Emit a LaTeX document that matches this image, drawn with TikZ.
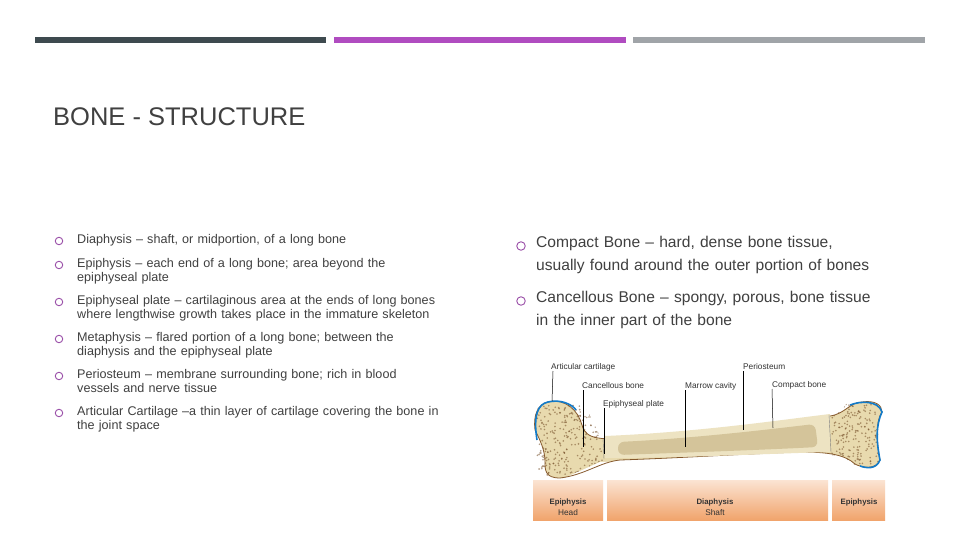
\documentclass[tikz,border=0pt]{standalone}
\usepackage{fontspec}
\setmainfont{Liberation Sans}
\definecolor{bar1}{HTML}{3E4A4F}
\definecolor{bar2}{HTML}{B04CC0}
\definecolor{bar3}{HTML}{A0A4A8}
\definecolor{bul}{HTML}{9A4FA8}
\definecolor{txt}{HTML}{404040}
\definecolor{bonec}{HTML}{EDE3C2}
\definecolor{marrow}{HTML}{D4C49A}
\definecolor{spong}{HTML}{E8DAAE}
\definecolor{orng}{HTML}{F1A46C}
\begin{document}
\begin{tikzpicture}[x=1pt,y=-1pt,
  lt/.style={anchor=north west,font=\fontsize{12.6}{14}\selectfont,text=txt,align=left,inner sep=0pt,text width=420pt},
  rt/.style={anchor=north west,font=\fontsize{15.6}{23}\selectfont,text=txt,align=left,inner sep=0pt,text width=420pt},
  bl/.style={draw=bul,line width=0.9pt,circle,minimum size=7.5pt,inner sep=0pt},
  lbl/.style={font=\fontsize{8.3}{9}\selectfont,inner sep=0pt,text=black!80},
  blbl/.style={font=\bfseries\fontsize{7.8}{9}\selectfont,inner sep=0pt,text=black!80},
  ptr/.style={draw=black,line width=0.5pt},
  bout/.style={draw=brown!70!black,line width=0.8pt},
  band/.style={top color=orng!30,bottom color=orng}]
\useasboundingbox (0,0) rectangle (960,540);
\fill[white] (0,0) rectangle (960,540);
\fill[bar1] (35,37) rectangle (326,43);
\fill[bar2] (334,37) rectangle (626,43);
\fill[bar3] (633,37) rectangle (925,43);
\node[anchor=west,font=\fontsize{25.5}{27}\selectfont,text=txt,inner sep=0pt] (title) at (53,117) {BONE - STRUCTURE};
% left bullets
\foreach \y/\t [count=\i] in {
 234/{Diaphysis -- shaft, or midportion, of a long bone},
 258/{Epiphysis -- each end of a long bone; area beyond the\\epiphyseal plate},
 295/{Epiphyseal plate -- cartilaginous area at the ends of long bones\\where lengthwise growth takes place in the immature skeleton},
 332/{Metaphysis -- flared portion of a long bone; between the\\diaphysis and the epiphyseal plate},
 369/{Periosteum -- membrane surrounding bone; rich in blood\\vessels and nerve tissue},
 406/{Articular Cartilage --a thin layer of cartilage covering the bone in\\the joint space}}{
 \node[bl] (b\i) at (59,\y+7) {};
 \node[lt] (l\i) at (77,\y) {\t};
}
\node[bl,minimum size=8.5pt] (rb1) at (521,246) {};
\node[rt] (r1) at (536,236) {Compact Bone -- hard, dense bone tissue,\\usually found around the outer portion of bones};
\node[bl,minimum size=8.5pt] (rb2) at (521,301) {};
\node[rt] (r2) at (536,291) {Cancellous Bone -- spongy, porous, bone tissue\\in the inner part of the bone};
% bone
\path[fill=spong]
 (548,402) .. controls (565,398) and (578,410) .. (582,425)
 .. controls (586,440) and (600,440) .. (640,438)
 .. controls (720,434) and (790,420) .. (830,416)
 .. controls (845,414) and (850,402) .. (862,402)
 .. controls (875,400) and (882,405) .. (882,412)
 .. controls (876,420) and (876,440) .. (880,460)
 .. controls (876,470) and (862,468) .. (855,464)
 .. controls (845,455) and (830,452) .. (800,452)
 .. controls (740,454) and (680,458) .. (620,460)
 .. controls (600,462) and (585,475) .. (560,478)
 .. controls (545,478) and (545,470) .. (545,462)
 .. controls (545,450) and (540,440) .. (535,430)
 .. controls (533,415) and (538,404) .. (548,402) -- cycle;
\pgfmathsetseed{7}
\foreach \k in {1,...,260}{
  \pgfmathsetmacro{\px}{537+rnd*66}
  \pgfmathsetmacro{\py}{405+rnd*70}
  \fill[brown!60!black,opacity=0.55] (\px,\py) circle (0.9pt);
}
\foreach \k in {1,...,180}{
  \pgfmathsetmacro{\px}{832+rnd*46}
  \pgfmathsetmacro{\py}{404+rnd*60}
  \fill[brown!60!black,opacity=0.55] (\px,\py) circle (0.9pt);
}
\fill[white] (530,478) rectangle (600,480);
\fill[white] (580,395) -- (600,436) -- (840,412) -- (852,396) -- cycle;
\fill[white] (560,480) -- (600,462) -- (840,456) -- (860,470) -- (860,480) -- cycle;
\path[bout]
 (548,402) .. controls (565,398) and (578,410) .. (582,425)
 .. controls (586,440) and (600,440) .. (640,438)
 .. controls (720,434) and (790,420) .. (830,416)
 .. controls (845,414) and (850,402) .. (862,402)
 .. controls (875,400) and (882,405) .. (882,412)
 .. controls (876,420) and (876,440) .. (880,460)
 .. controls (876,470) and (862,468) .. (855,464)
 .. controls (845,455) and (830,452) .. (800,452)
 .. controls (740,454) and (680,458) .. (620,460)
 .. controls (600,462) and (585,475) .. (560,478)
 .. controls (545,478) and (545,470) .. (545,462)
 .. controls (545,450) and (540,440) .. (535,430)
 .. controls (533,415) and (538,404) .. (548,402) -- cycle;
\draw[cyan!60!blue,line width=1.6pt] (537,440) .. controls (533,415) and (538,404) .. (548,402) .. controls (560,399) and (572,404) .. (576,410);
\draw[cyan!60!blue,line width=1.6pt] (850,405) .. controls (860,401) and (878,400) .. (882,412) .. controls (876,425) and (876,440) .. (880,460) .. controls (876,470) and (866,468) .. (860,466);
\fill[bonec] (605,436) .. controls (700,432) and (780,420) .. (830,414) -- (830,452) .. controls (760,454) and (680,458) .. (605,458) -- cycle;
\fill[marrow,rounded corners=6pt] (618,442) .. controls (700,438) and (780,428) .. (815,424) -- (818,447) .. controls (760,450) and (700,452) .. (618,455) -- cycle;
\draw[black!50,line width=0.4pt] (603,438) -- (604,459);
\draw[black!50,line width=0.4pt] (829,415) -- (831,452);
% bands
\shade[band] (533,480) rectangle (603,520);
\shade[band] (607,480) rectangle (828,520);
\shade[band] (832,480) rectangle (885,520);
\node[blbl] (e1) at (568,502) {Epiphysis};
\node[lbl] (h1) at (568,513) {Head};
\node[blbl] (d1) at (715,502) {Diaphysis};
\node[lbl] (s1) at (715,513) {Shaft};
\node[blbl] (e2) at (859,502) {Epiphysis};
% labels and pointers
\node[lbl,anchor=west] (ac) at (551,367) {Articular cartilage};
\node[lbl,anchor=west] (cb) at (582,386) {Cancellous bone};
\node[lbl,anchor=west] (ep) at (603,404) {Epiphyseal plate};
\node[lbl,anchor=west] (mc) at (685,386) {Marrow cavity};
\node[lbl,anchor=west] (po) at (743,367) {Periosteum};
\node[lbl,anchor=west] (cp) at (772,385) {Compact bone};
\coordinate (acp) at (552,401);
\coordinate (cbp) at (583,447);
\coordinate (epp) at (604,454);
\coordinate (mcp) at (685,447);
\coordinate (pop) at (743,430);
\coordinate (cpp) at (773,428);
\draw[ptr] (ac.west) ++(2,4) -- (acp);
\draw[ptr] (cb.west) ++(1,4) -- (cbp);
\draw[ptr] (ep.west) ++(1,4) -- (epp);
\draw[ptr] (mc.west) ++(0,4) -- (mcp);
\draw[ptr] (po.west) ++(0,4) -- (pop);
\draw[ptr] (cp.west) ++(0,4) -- (cpp);
\end{tikzpicture}
\end{document}
